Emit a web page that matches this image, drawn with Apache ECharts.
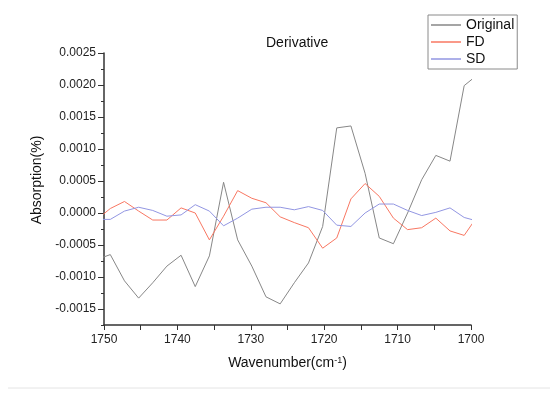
<!DOCTYPE html>
<html>
<head>
<meta charset="utf-8">
<script src="https://cdn.jsdelivr.net/npm/echarts@6/dist/echarts.min.js"></script>
<style>
html,body{margin:0;padding:0;background:#ffffff;}
#chart{width:550px;height:397px;}
</style>
</head>
<body>
<div id="chart"></div>
<script>
// Data
var wavenumber = [1751.07, 1749.14, 1747.21, 1745.28, 1743.36, 1741.43, 1739.50, 1737.57, 1735.64, 1733.71, 1731.79, 1729.86, 1727.93, 1726.00, 1724.07, 1722.14, 1720.21, 1718.29, 1716.36, 1714.43, 1712.50, 1710.57, 1708.64, 1706.72, 1704.79, 1702.86, 1700.93, 1699.00];
var original = [-0.00073, -0.00065, -0.00106, -0.00133, -0.00109, -0.00083, -0.00066, -0.00115, -0.00067, 0.00048, -0.00042, -0.00083, -0.00131, -0.00142, -0.00109, -0.00078, -0.00021, 0.00133, 0.00136, 0.00062, -0.00039, -0.00048, 0.00000, 0.00052, 0.00090, 0.00081, 0.00199, 0.00217];
var fd = [-0.00011, 0.00007, 0.00018, 0.00003, -0.00011, -0.00011, 0.00008, 0.00000, -0.00042, -0.00005, 0.00035, 0.00023, 0.00016, -0.00006, -0.00015, -0.00023, -0.00055, -0.00039, 0.00022, 0.00046, 0.00026, -0.00008, -0.00026, -0.00023, -0.00008, -0.00028, -0.00035, -0.00003];
var sd = [-0.00010, -0.00010, 0.00003, 0.00009, 0.00004, -0.00005, -0.00003, 0.00013, 0.00003, -0.00020, -0.00008, 0.00006, 0.00009, 0.00009, 0.00005, 0.00010, 0.00004, -0.00019, -0.00021, 0.00000, 0.00014, 0.00014, 0.00004, -0.00004, 0.00001, 0.00008, -0.00007, -0.00013];
var seriesNames = ['Original', 'FD', 'SD'];
var yMajorTicks = [-0.0015, -0.0010, -0.0005, 0.0000, 0.0005, 0.0010, 0.0015, 0.0020, 0.0025];
var xLabels = [1750, 1740, 1730, 1720, 1710, 1700];

function pairs(xs, ys) {
  return xs.map(function (x, i) { return [x, ys[i]]; });
}

var FONT = '"Liberation Sans", Arial, sans-serif';
var colors = ['#878787', '#f87762', '#9296e2'];

var chart = echarts.init(document.getElementById('chart'), null, {renderer: 'canvas'});
var option = {
  backgroundColor: '#ffffff',
  animation: false,
  color: colors,
  title: {
    text: 'Derivative',
    left: 266,
    top: 36,
    padding: 0,
    textStyle: {fontFamily: FONT, fontSize: 14, fontWeight: 'normal', color: '#111'}
  },
  legend: {
    orient: 'vertical',
    left: 428,
    top: 15,
    padding: [3, 3, 3, 3],
    itemWidth: 30,
    itemHeight: 1.5,
    itemGap: 3,
    icon: 'rect',
    borderColor: '#8a8a8a',
    borderWidth: 1,
    data: seriesNames,
    textStyle: {fontFamily: FONT, fontSize: 14, color: '#111', lineHeight: 14}
  },
  grid: {left: 104, right: 79, top: 53, bottom: 72, containLabel: false},
  xAxis: {
    type: 'value',
    inverse: true,
    min: 1700,
    max: 1750,
    interval: 5,
    name: 'Wavenumber(cm{sup|-1})',
    nameLocation: 'middle',
    nameGap: 31,
    nameTextStyle: {fontFamily: FONT, fontSize: 14, color: '#111',
      rich: {sup: {fontFamily: FONT, fontSize: 9, color: '#111', verticalAlign: 'top', padding: [0, 0, 6, 0]}}},
    axisLine: {show: true, onZero: false, lineStyle: {color: '#333', width: 1.5}},
    axisTick: {show: true, length: 5, lineStyle: {color: '#333', width: 1}},
    axisLabel: {
      fontFamily: FONT, fontSize: 12, color: '#222', margin: 9,
      formatter: function (v) { return xLabels.indexOf(Math.round(v)) >= 0 && Math.abs(v - Math.round(v)) < 1e-6 ? String(Math.round(v)) : ''; }
    },
    splitLine: {show: false}
  },
  yAxis: [{
    type: 'value',
    min: -0.00175,
    max: 0.0025,
    interval: 0.00025,
    name: 'Absorption(%)',
    nameLocation: 'middle',
    nameGap: 58,
    nameTextStyle: {fontFamily: FONT, fontSize: 14, color: '#111', padding: [0, 0, 0, 18]},
    axisLine: {show: true, onZero: false, lineStyle: {color: '#333', width: 1.5}},
    axisTick: {show: true, length: 3, lineStyle: {color: '#333', width: 1}},
    axisLabel: {
      fontFamily: FONT, fontSize: 12, color: '#222', margin: 8,
      formatter: function (v) {
        var q = v / 0.0005;
        if (Math.abs(q - Math.round(q)) > 1e-6) return '';
        if (Math.abs(v) < 1e-9) v = 0;
        return v.toFixed(4);
      }
    },
    splitLine: {show: false}
  }, {
    type: 'value',
    position: 'left',
    min: -0.00175,
    max: 0.0025,
    axisLine: {show: false},
    axisTick: {show: true, length: 6, customValues: yMajorTicks, lineStyle: {color: '#333', width: 1}},
    axisLabel: {show: false},
    splitLine: {show: false}
  }],
  series: [
    {name: seriesNames[0], type: 'line', data: pairs(wavenumber, original), showSymbol: false, symbol: 'none', lineStyle: {width: 1, color: colors[0]}, itemStyle: {color: colors[0]}},
    {name: seriesNames[1], type: 'line', data: pairs(wavenumber, fd), showSymbol: false, symbol: 'none', lineStyle: {width: 1, color: colors[1]}, itemStyle: {color: colors[1]}},
    {name: seriesNames[2], type: 'line', data: pairs(wavenumber, sd), showSymbol: false, symbol: 'none', lineStyle: {width: 1, color: colors[2]}, itemStyle: {color: colors[2]}}
  ],
  graphic: [{
    type: 'line',
    shape: {x1: 8, y1: 388, x2: 550, y2: 388},
    style: {stroke: '#e4e4e4', lineWidth: 1},
    silent: true
  }]
};
chart.setOption(option);
</script>
</body>
</html>
